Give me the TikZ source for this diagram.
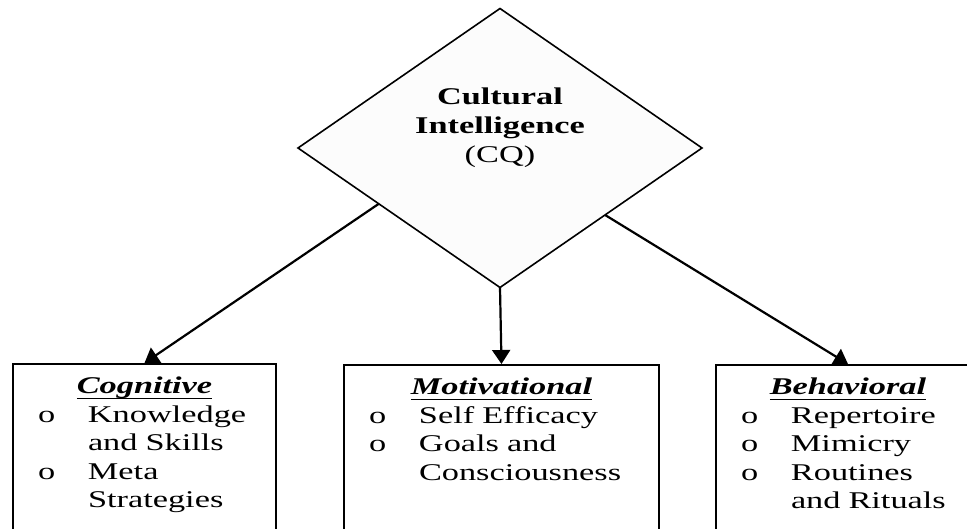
\documentclass[tikz,border=0pt]{standalone}
\usepackage{fontspec}
\setmainfont{Liberation Serif}[FakeStretch=1.43]
\usetikzlibrary{calc,shapes.geometric,arrows.meta}
\newcommand{\Gap}{50pt}
\newcommand{\Hd}[1]{\setbox0\hbox{\bfseries\itshape #1}\rlap{\rule[-5.5pt]{\wd0}{1.3pt}}\box0}
\newcommand{\Itm}[1]{\makebox[\Gap][l]{o}#1}
\newcommand{\Cnt}[1]{\hspace*{\Gap}#1}
\tikzset{Box/.style={
    draw=black,
    line width=2pt,
    anchor=north west,
    inner xsep=25pt,
    inner ysep=8pt,
    text height=22pt,
    text depth=150pt,
    align=left,
    font=\fontsize{24}{28.5}\selectfont,
    }
}

\begin{document}
\begin{tikzpicture}[x=1pt, y=-1pt,
    CQ/.style={diamond,
    draw=black,
    line width=1.6pt,
    fill=black!1,
    minimum width=404pt,
    minimum height=279pt,
    inner sep=0pt,
    outer sep=0pt,
    },
    Arr/.style={line width=2.2pt, -{Triangle[length=14pt,width=18pt]}},
]
\useasboundingbox (0,0) rectangle (967,529);
\clip (0,0) rectangle (967,529);
\node [CQ, label={[align=center, yshift=20pt, font=\fontsize{24}{29}\selectfont]center:{\textbf{Cultural}\\\textbf{Intelligence}\\(CQ)}}] (cq) at (500,148) {};
\node [Box, text width=213pt] (cog) at (12,363) {\makebox[\linewidth]{\Hd{Cognitive}}\\
    \Itm{Knowledge}\\ \Cnt{and Skills}\\ \Itm{Meta}\\ \Cnt{Strategies}};
\node [Box, text width=265pt] (mot) at (343,364) {\makebox[\linewidth]{\Hd{Motivational}}\\
    \Itm{Self Efficacy}\\ \Itm{Goals and}\\ \Cnt{Consciousness}};
\node [Box, text width=214pt] (beh) at (715,364) {\makebox[\linewidth]{\Hd{Behavioral}}\\
    \Itm{Repertoire}\\ \Itm{Mimicry}\\ \Itm{Routines}\\ \Cnt{and Rituals}};
\draw [Arr] ($(cq.west)!0.4!(cq.south)$) -- (cog.north);
\draw [Arr] (cq.south) -- (mot.north);
\draw [Arr] ($(cq.east)!0.48!(cq.south)$) -- (beh.north);
\end{tikzpicture}
\end{document}
